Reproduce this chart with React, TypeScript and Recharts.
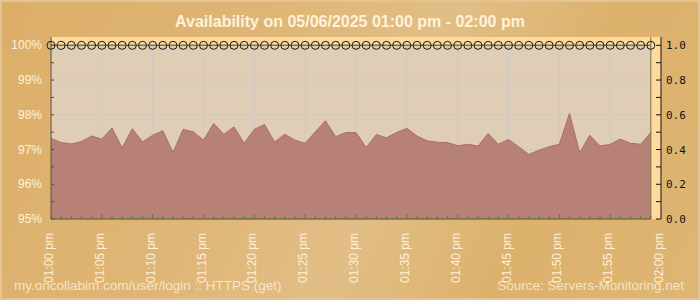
import React from "react";
import {
  ComposedChart,
  Area,
  Line,
  XAxis,
  YAxis,
  CartesianGrid,
  ReferenceArea,
  ReferenceLine,
} from "recharts";

// availability per minute, 01:00 pm .. 01:59 pm (percent)
const availability = [
  97.32, 97.2, 97.16, 97.23, 97.39, 97.3, 97.62, 97.05, 97.6, 97.22,
  97.41, 97.54, 96.92, 97.58, 97.51, 97.27, 97.75, 97.44, 97.65, 97.18,
  97.58, 97.72, 97.22, 97.44, 97.27, 97.18, 97.51, 97.83, 97.37, 97.49,
  97.49, 97.06, 97.43, 97.34, 97.49, 97.61, 97.39, 97.25, 97.21, 97.2,
  97.11, 97.15, 97.1, 97.46, 97.15, 97.29, 97.08, 96.86, 96.98, 97.08,
  97.15, 98.04, 96.91, 97.41, 97.1, 97.15, 97.3, 97.18, 97.15, 97.49,
];

// up/down status per minute (1 = up)
const status = [
  1, 1, 1, 1, 1, 1, 1, 1, 1, 1,
  1, 1, 1, 1, 1, 1, 1, 1, 1, 1,
  1, 1, 1, 1, 1, 1, 1, 1, 1, 1,
  1, 1, 1, 1, 1, 1, 1, 1, 1, 1,
  1, 1, 1, 1, 1, 1, 1, 1, 1, 1,
  1, 1, 1, 1, 1, 1, 1, 1, 1, 1,
];

const timeLabels = [
  "01:00 pm", "01:05 pm", "01:10 pm", "01:15 pm", "01:20 pm", "01:25 pm",
  "01:30 pm", "01:35 pm", "01:40 pm", "01:45 pm", "01:50 pm", "01:55 pm",
  "02:00 pm",
];

const minuteTicks = [
  0, 1, 2, 3, 4, 5, 6, 7, 8, 9, 10, 11, 12, 13, 14, 15, 16, 17, 18, 19, 20,
  21, 22, 23, 24, 25, 26, 27, 28, 29, 30, 31, 32, 33, 34, 35, 36, 37, 38, 39,
  40, 41, 42, 43, 44, 45, 46, 47, 48, 49, 50, 51, 52, 53, 54, 55, 56, 57, 58,
  59, 60,
];
const fiveMinTicks = [0, 5, 10, 15, 20, 25, 30, 35, 40, 45, 50, 55, 60];
const pctTicks = [95, 95.5, 96, 96.5, 97, 97.5, 98, 98.5, 99, 99.5, 100];
const pctGrid = [95, 96, 97, 98, 99, 100];
const ratioTicks = [0, 0.1, 0.2, 0.3, 0.4, 0.5, 0.6, 0.7, 0.8, 0.9, 1];

const data = availability.map((v, i) => ({ min: i, pct: v, up: status[i] }));
const lastMin = data.length - 1;

const cream = "#FFF2DA";
const sans = "'Liberation Sans', Arial, sans-serif";

function XTick(props: any) {
  const { x, y, payload } = props;
  const v = payload.value;
  const major = v % 5 === 0;
  return (
    <g>
      {v <= lastMin && (
        <line x1={x} x2={x} y1={y} y2={y - (major ? 5 : 3)} stroke="#6F7049" />
      )}
      {major && (
        <text
          transform={`translate(${x + 2},${y + 14}) rotate(-90)`}
          textAnchor="end"
          fontSize={12}
          fontFamily={sans}
          fill="#FFF0D8"
        >
          {timeLabels[v / 5]}
        </text>
      )}
    </g>
  );
}

function LeftTick(props: any) {
  const { x, y, payload } = props;
  const v = payload.value;
  return (
    <g>
      <line x1={x} x2={x + 3} y1={y} y2={y} stroke="#6B4A1E" />
      {Number.isInteger(v) && (
        <text
          x={x - 9}
          y={y + 4}
          textAnchor="end"
          fontSize={12}
          fontFamily={sans}
          fill={cream}
        >
          {v}%
        </text>
      )}
    </g>
  );
}

function RightTick(props: any) {
  const { x, y, payload } = props;
  const v = payload.value;
  const labelled = Math.round(v * 10) % 2 === 0;
  return (
    <g>
      <line x1={x - 5} x2={x} y1={y} y2={y} stroke="#111" />
      {labelled && (
        <text
          x={x + 5}
          y={y + 4}
          textAnchor="start"
          fontSize={11}
          fontFamily="'DejaVu Sans Mono', monospace"
          fill="#111"
        >
          {v.toFixed(1)}
        </text>
      )}
    </g>
  );
}

export default function App() {
  return (
    <div
      style={{
        position: "absolute",
        left: 0,
        top: 0,
        width: 700,
        height: 300,
        boxSizing: "border-box",
        border: "2px solid #E3C594",
        background:
          "linear-gradient(115deg, #DCAE68 0%, #DFB677 35%, #E2BE86 55%, #DCB16C 75%, #DEB574 100%)",
        overflow: "hidden",
      }}
    >
      <div
        style={{
          position: "absolute",
          left: -2,
          top: 11,
          width: 700,
          textAlign: "center",
          fontFamily: sans,
          fontWeight: "bold",
          fontSize: 16,
          color: cream,
        }}
      >
        Availability on 05/06/2025 01:00 pm - 02:00 pm
      </div>
      <div style={{ position: "absolute", left: -2, top: -2 }}>
        <ComposedChart
          width={700}
          height={300}
          data={data}
          margin={{ top: 37, right: 0, bottom: 11, left: 0 }}
        >
          <CartesianGrid
            yAxisId="left"
            fill="#DFCEB5"
            fillOpacity={1}
            stroke="#CDC9C4"
            horizontalValues={pctGrid}
            verticalValues={fiveMinTicks}
          />
          <XAxis
            dataKey="min"
            type="number"
            domain={[0, 60]}
            ticks={minuteTicks}
            interval={0}
            height={70}
            tickSize={0}
            tickMargin={0}
            tickLine={false}
            axisLine={false}
            tick={<XTick />}
          />
          <YAxis
            yAxisId="left"
            orientation="left"
            width={51}
            domain={[95, 100.24]}
            ticks={pctTicks}
            interval={0}
            allowDataOverflow
            tickSize={0}
            tickMargin={0}
            tickLine={false}
            axisLine={{ stroke: "#6B4A1E" }}
            tick={<LeftTick />}
          />
          <YAxis
            yAxisId="right"
            orientation="right"
            width={39}
            domain={[0, 1.048]}
            ticks={ratioTicks}
            interval={0}
            allowDataOverflow
            tickSize={0}
            tickMargin={0}
            tickLine={false}
            axisLine={{ stroke: "#111" }}
            tick={<RightTick />}
          />
          <ReferenceArea
            yAxisId="left"
            x1={0}
            x2={60}
            y1={100}
            y2={100.24}
            fill="#FFDA9C"
            fillOpacity={1}
            stroke="none"
          />
          <ReferenceArea
            yAxisId="left"
            x1={lastMin}
            x2={60}
            y1={95}
            y2={100.24}
            fill="#FFDA9C"
            fillOpacity={1}
            stroke="none"
          />
          <Area
            yAxisId="left"
            type="linear"
            dataKey="pct"
            stroke="#AE6C62"
            strokeWidth={1}
            fill="#B47B73"
            fillOpacity={0.92}
            baseValue={95}
            dot={false}
            activeDot={false}
            isAnimationActive={false}
          />
          <ReferenceLine
            yAxisId="left"
            x={lastMin}
            stroke="#6F7049"
            segment={[
              { x: lastMin, y: 95 },
              { x: lastMin, y: 100 },
            ]}
          />
          <ReferenceLine
            yAxisId="left"
            stroke="#6F7049"
            strokeWidth={1.5}
            segment={[
              { x: 0, y: 95 },
              { x: lastMin, y: 95 },
            ]}
          />
          <Line
            yAxisId="right"
            type="linear"
            dataKey="up"
            stroke="#7E7A3C"
            strokeWidth={1.5}
            dot={{ r: 4, stroke: "#1A1A1A", strokeWidth: 1, fill: "none" }}
            activeDot={false}
            isAnimationActive={false}
          />
        </ComposedChart>
      </div>
      <div
        style={{
          position: "absolute",
          left: 12,
          top: 276,
          fontFamily: sans,
          fontSize: 13.5,
          color: "rgba(255,245,225,0.75)",
          whiteSpace: "nowrap",
        }}
      >
        my.oncollabim.com/user/login :: HTTPS (get)
      </div>
      <div
        style={{
          position: "absolute",
          right: 14,
          top: 276,
          fontFamily: sans,
          fontSize: 13.5,
          color: "rgba(255,245,225,0.75)",
          whiteSpace: "nowrap",
        }}
      >
        Source: Servers-Monitoring.net
      </div>
    </div>
  );
}
